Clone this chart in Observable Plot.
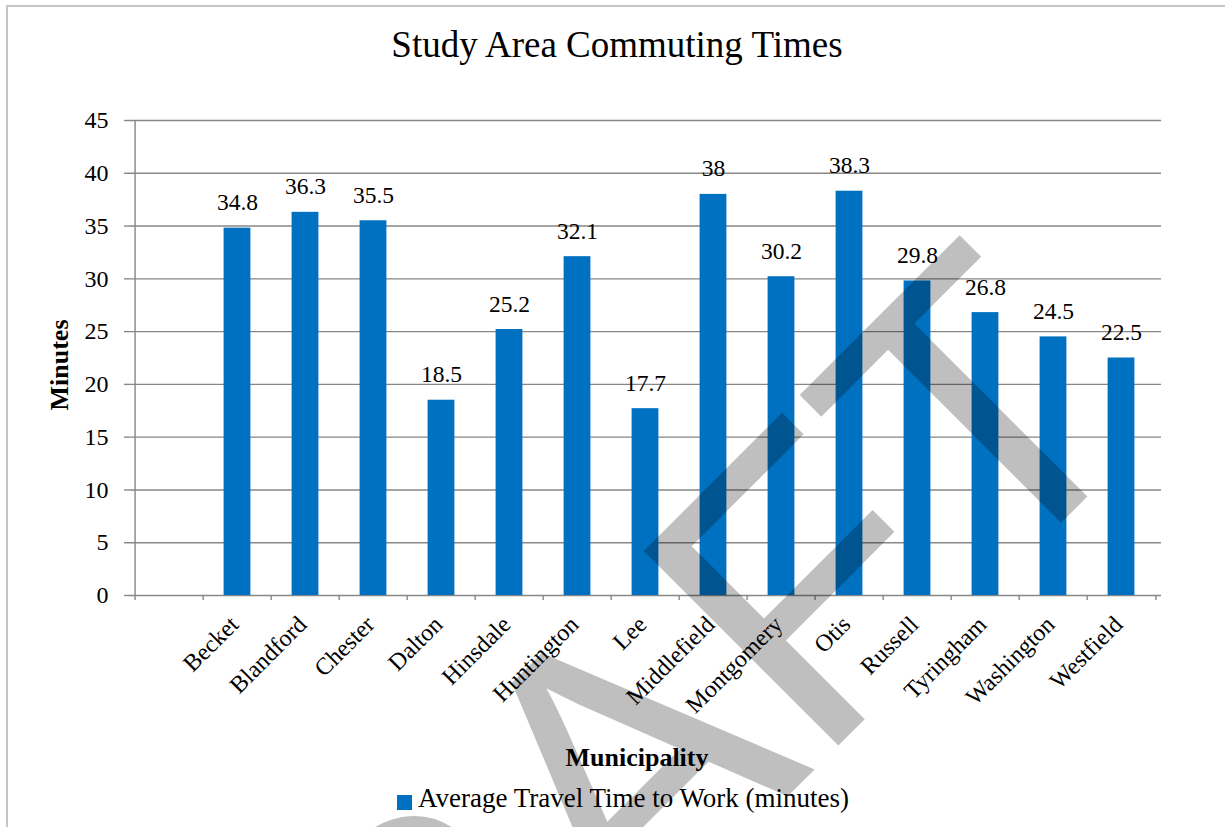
<!DOCTYPE html>
<html>
<head>
<meta charset="utf-8">
<script src="https://cdn.jsdelivr.net/npm/d3@7"></script>
<script src="https://cdn.jsdelivr.net/npm/@observablehq/plot@0.6"></script>
<style>
  html, body { margin: 0; padding: 0; background: #fff; }
  #page {
    position: relative; width: 1225px; height: 827px; overflow: hidden;
    font-family: "Liberation Serif", "Times New Roman", serif; color: #000;
  }
  #frame {
    position: absolute; left: 6px; top: 5px; width: 1300px; height: 900px;
    border-left: 2px solid #c4c4c4; border-top: 2px solid #c4c4c4;
  }
  #title {
    position: absolute; left: 617px; top: 26px; transform: translateX(-50%);
    white-space: nowrap; font-size: 37px; line-height: 37px;
  }
  #chart { position: absolute; left: 0; top: 100px; }
  #chart text { font-family: "Liberation Serif", "Times New Roman", serif; font-variant: normal; }
  #xtitle {
    position: absolute; left: 637px; top: 745px; transform: translateX(-50%);
    white-space: nowrap; font-size: 26px; line-height: 26px; font-weight: bold;
  }
  #legend {
    position: absolute; left: 397px; top: 785px; white-space: nowrap;
    font-size: 27px; line-height: 27px;
  }
  #legend .swatch {
    position: absolute; left: 0; top: 10px; width: 15px; height: 15px; background: #0070C0;
  }
  #legend .label { position: absolute; left: 21px; top: 0; }
  #watermark { position: absolute; left: 0; top: 0; pointer-events: none; }
</style>
</head>
<body>
<div id="page">
  <div id="frame"></div>
  <div id="title"></div>
  <div id="chart"></div>
  <div id="xtitle"></div>
  <div id="legend"><span class="swatch"></span><span class="label"></span></div>
  <svg id="watermark" width="1225" height="827">
    <text x="218" y="1366" transform="rotate(-45 218 1366)"
          font-family="'Liberation Sans', Arial, sans-serif" font-size="400"
          style="font-kerning: none" fill="#000" fill-opacity="0.25">DRAFT</text>
  </svg>
</div>
<script>
// Average travel time to work, by municipality
const municipalities = [
  "Becket", "Blandford", "Chester", "Dalton", "Hinsdale", "Huntington", "Lee",
  "Middlefield", "Montgomery", "Otis", "Russell", "Tyringham", "Washington", "Westfield"
];
const travelMinutes = [34.8, 36.3, 35.5, 18.5, 25.2, 32.1, 17.7, 38, 30.2, 38.3, 29.8, 26.8, 24.5, 22.5];
const yTicks = [0, 5, 10, 15, 20, 25, 30, 35, 40, 45];

const chartTitle = "Study Area Commuting Times";
const xTitle = "Municipality";
const yTitle = "Minutes";
const seriesName = "Average Travel Time to Work (minutes)";

// The worksheet range starts with a blank row, which leaves an empty first slot on the axis
const slots = ["", ...municipalities];

const data = municipalities.map((name, i) => ({name, minutes: travelMinutes[i]}));

const W = 1225, H = 600;
const M = {top: 20, right: 64, bottom: 105, left: 129};
const step = (W - M.left - M.right) / slots.length;
const barColor = "#0070C0";
const lineColor = "#878787";
const serif = "'Liberation Serif', 'Times New Roman', serif";

const chart = Plot.plot({
  width: W,
  height: H,
  marginTop: M.top,
  marginRight: M.right,
  marginBottom: M.bottom,
  marginLeft: M.left,
  style: {fontFamily: serif, fontSize: "23px", color: "#000", background: "transparent", overflow: "visible"},
  x: {domain: slots, padding: 0, axis: null},
  y: {domain: [0, 45]},
  marks: [
    Plot.gridY({ticks: yTicks, stroke: lineColor, strokeOpacity: 1, strokeWidth: 1.4}),
    // value axis line
    Plot.ruleX([slots[0]], {x: d => d, dx: -step / 2, stroke: lineColor, strokeWidth: 1.4}),
    // category tick marks sit on the slot boundaries
    Plot.ruleX(slots, {x: d => d, dx: -step / 2, y1: 0, y2: 0, insetBottom: -5, stroke: lineColor, strokeWidth: 1.4}),
    Plot.ruleX([slots[slots.length - 1]], {x: d => d, dx: step / 2, y1: 0, y2: 0, insetBottom: -5, stroke: lineColor, strokeWidth: 1.4}),
    Plot.axisY({ticks: yTicks, tickSize: 5, tickPadding: 16, fontSize: 24, fontFamily: serif, fontVariant: "normal", stroke: lineColor, strokeWidth: 1.4, label: null, tickFormat: d => String(d)}),
    Plot.barY(data, {x: "name", y: "minutes", fill: barColor, insetLeft: 20.6, insetRight: 20.6}),
    Plot.text(data, {x: "name", y: "minutes", text: d => String(d.minutes), lineAnchor: "bottom", dy: -18, fontSize: 23.5, fontFamily: serif, fontVariant: "normal"}),
    Plot.text(municipalities, {x: d => d, text: d => d, frameAnchor: "bottom", rotate: -45, textAnchor: "end", lineAnchor: "middle", dx: -3, dy: 25, fontSize: 24, fontFamily: serif}),
    Plot.text([yTitle], {text: d => d, frameAnchor: "left", rotate: -90, textAnchor: "middle", lineAnchor: "bottom", dx: -62, dy: 7, fontSize: 26, fontWeight: "bold", fontFamily: serif})
  ]
});

document.getElementById("chart").appendChild(chart);
document.getElementById("title").textContent = chartTitle;
document.getElementById("xtitle").textContent = xTitle;
document.querySelector("#legend .label").textContent = seriesName;
</script>
</body>
</html>
